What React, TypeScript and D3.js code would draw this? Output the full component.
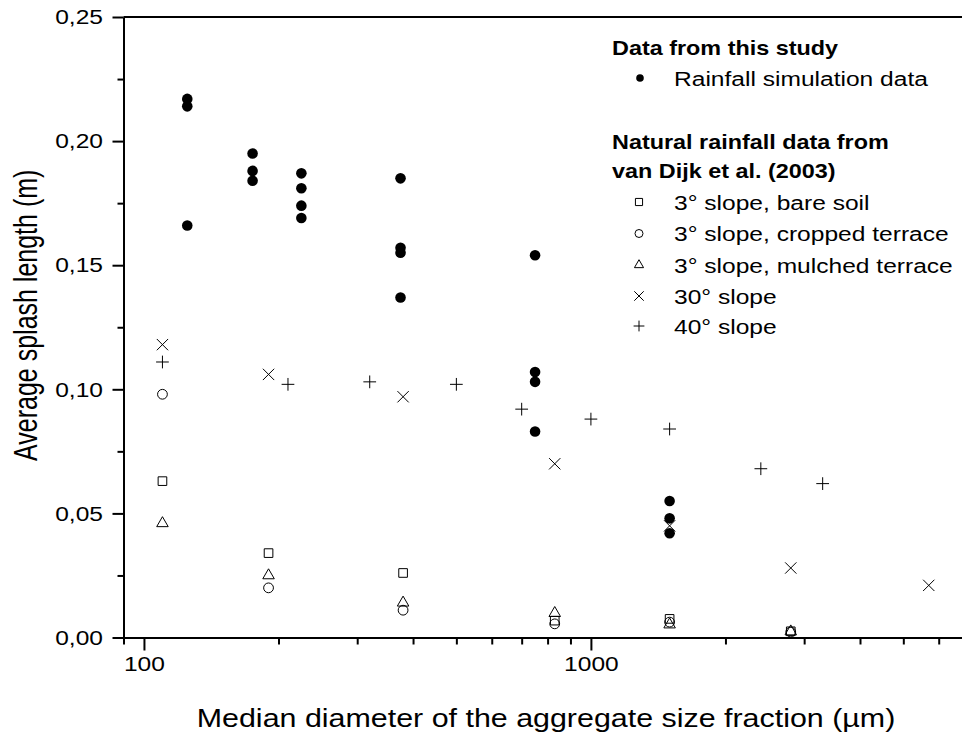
import React, { useRef, useEffect } from "react";
import * as d3 from "d3";

// rainfall simulation (this study)
const rainX = [125, 125, 125, 175, 175, 175, 225, 225, 225, 225, 375, 375, 375, 375, 750, 750, 750, 750, 1500, 1500, 1500];
const rainY = [0.217, 0.214, 0.166, 0.195, 0.188, 0.184, 0.187, 0.181, 0.174, 0.169, 0.185, 0.157, 0.155, 0.137, 0.154, 0.107, 0.103, 0.083, 0.055, 0.048, 0.042];

// van Dijk et al. (2003)
const flatX = [110, 190, 380, 830, 1500, 2800];
const bareY = [0.063, 0.034, 0.026, 0.0068, 0.0075, 0.0025];
const croppedY = [0.098, 0.02, 0.011, 0.0055, 0.0062, 0.0022];
const mulchedY = [0.046, 0.025, 0.014, 0.0098, 0.0052, 0.0024];
const slope30X = [110, 190, 380, 830, 1500, 2800, 5700];
const slope30Y = [0.118, 0.106, 0.097, 0.07, 0.045, 0.028, 0.021];
const slope40X = [110, 210, 320, 500, 700, 1000, 1500, 2400, 3300];
const slope40Y = [0.111, 0.102, 0.103, 0.102, 0.092, 0.088, 0.084, 0.068, 0.062];

const yMajor = [0, 0.05, 0.1, 0.15, 0.2, 0.25];
const yMinor = [0.025, 0.075, 0.125, 0.175, 0.225];
const xMajor = [100, 1000];
const xMinor = [90, 200, 300, 400, 500, 600, 700, 800, 900, 2000, 3000, 4000, 5000, 6000];

const legendLabels = ["3° slope, bare soil", "3° slope, cropped terrace", "3° slope, mulched terrace", "30° slope", "40° slope"];

const SX = 1.17; // text in the source is a bit wider than Arial
const FONT = "Arial, 'Liberation Sans', sans-serif";

const App = () => {
    const svgRef = useRef(null);

    useEffect(() => {
        const svg = d3.select(svgRef.current);
        svg.selectAll("*").remove();

        const x = d3.scaleLog().domain([90, 6800]).range([123.5, 963]);
        const y = d3.scaleLinear().domain([0, 0.25]).range([637.5, 17]);
        const x0 = 123.5, y0 = 637.5;

        const styleAxis = (g) => {
            g.select(".domain").attr("stroke-width", 2);
            g.selectAll(".tick line").attr("stroke-width", 2);
        };

        // y axis
        const gy = svg.append("g").attr("transform", `translate(${x0},0)`)
            .call(d3.axisLeft(y).tickValues(yMajor).tickSize(11).tickSizeOuter(0)
                .tickFormat((d) => d3.format(".2f")(d).replace(".", ",")));
        styleAxis(gy);
        gy.selectAll(".tick text")
            .attr("font-family", FONT).attr("font-size", 21).attr("fill", "#000")
            .attr("x", -20.5 / SX).attr("transform", `scale(${SX},1)`);
        svg.append("g").attr("transform", `translate(${x0},0)`)
            .call(d3.axisLeft(y).tickValues(yMinor).tickSize(6).tickFormat(() => ""))
            .call((g) => { g.select(".domain").remove(); g.selectAll("line").attr("stroke-width", 2); });

        // x axis
        const gx = svg.append("g").attr("transform", `translate(0,${y0})`)
            .call(d3.axisBottom(x).tickValues(xMajor).tickSize(13).tickSizeOuter(0).tickFormat(d3.format("d")));
        styleAxis(gx);
        gx.selectAll(".tick text")
            .attr("font-family", FONT).attr("font-size", 21).attr("fill", "#000")
            .attr("y", 18.5).attr("transform", `scale(${SX},1)`);
        svg.append("g").attr("transform", `translate(0,${y0})`)
            .call(d3.axisBottom(x).tickValues(xMinor).tickSize(7).tickFormat(() => ""))
            .call((g) => { g.select(".domain").remove(); g.selectAll("line").attr("stroke-width", 2); });

        // top frame
        svg.append("line").attr("x1", x0).attr("x2", 962).attr("y1", y(0.25)).attr("y2", y(0.25))
            .attr("stroke", "#000").attr("stroke-width", 2);

        // axis titles
        svg.append("text")
            .attr("transform", `translate(${546},${727}) scale(${SX},1)`)
            .attr("text-anchor", "middle").attr("font-family", FONT).attr("font-size", 26)
            .text("Median diameter of the aggregate size fraction (µm)");
        svg.append("text")
            .attr("transform", `translate(${37},${y(0.125) - 12}) scale(1.35,1) rotate(-90)`)
            .attr("text-anchor", "middle").attr("font-family", FONT).attr("font-size", 25)
            .text("Average splash length (m)");

        const sym = (type, size) => d3.symbol().type(type).size(size)();
        const openSeries = [
            { xs: flatX, ys: bareY, path: sym(d3.symbolSquare2, 95) },
            { xs: flatX, ys: croppedY, path: sym(d3.symbolCircle, 75) },
            { xs: flatX, ys: mulchedY, path: sym(d3.symbolTriangle2, 95) },
            { xs: slope30X, ys: slope30Y, path: sym(d3.symbolTimes, 85) },
            { xs: slope40X, ys: slope40Y, path: sym(d3.symbolPlus, 55) },
        ];

        openSeries.forEach((s) => {
            svg.append("g").selectAll("path")
                .data(s.xs)
                .join("path")
                .attr("transform", (d, i) => `translate(${x(d)},${y(s.ys[i])})`)
                .attr("d", s.path)
                .attr("fill", "none").attr("stroke", "#000").attr("stroke-width", 1);
        });

        svg.append("g").selectAll("circle")
            .data(rainX)
            .join("circle")
            .attr("cx", (d) => x(d))
            .attr("cy", (d, i) => y(rainY[i]))
            .attr("r", 5.3)
            .attr("fill", "#000");

        // legend
        const lg = svg.append("g").attr("font-family", FONT);
        const txt = (tx, ty, s, bold, size) => lg.append("text")
            .attr("transform", `translate(${tx},${ty}) scale(${SX},1)`)
            .attr("font-size", size).attr("font-weight", bold ? "bold" : "normal")
            .text(s);
        txt(612, 54.5, "Data from this study", true, 20);
        lg.append("circle").attr("cx", 640).attr("cy", 78).attr("r", 3.8).attr("fill", "#000");
        txt(674, 85.5, "Rainfall simulation data", false, 21);
        txt(612, 148.5, "Natural rainfall data from", true, 20);
        txt(612, 177.5, "van Dijk et al. (2003)", true, 20);
        const legY = [202, 233.5, 265, 296, 326];
        const legSyms = [sym(d3.symbolSquare2, 65), sym(d3.symbolCircle, 50), sym(d3.symbolTriangle2, 60), sym(d3.symbolTimes, 60), sym(d3.symbolPlus, 40)];
        legendLabels.forEach((l, i) => {
            lg.append("path").attr("transform", `translate(639,${legY[i]})`).attr("d", legSyms[i])
                .attr("fill", "none").attr("stroke", "#000").attr("stroke-width", 1);
            txt(674, legY[i] + 7.5, l, false, 21);
        });
    }, []);

    return (
        <div>
            <svg ref={svgRef} width={962} height={738}
                style={{ position: "absolute", left: 0, top: 0, background: "#fff" }}>
            </svg>
        </div>
    );
};

export default App;
